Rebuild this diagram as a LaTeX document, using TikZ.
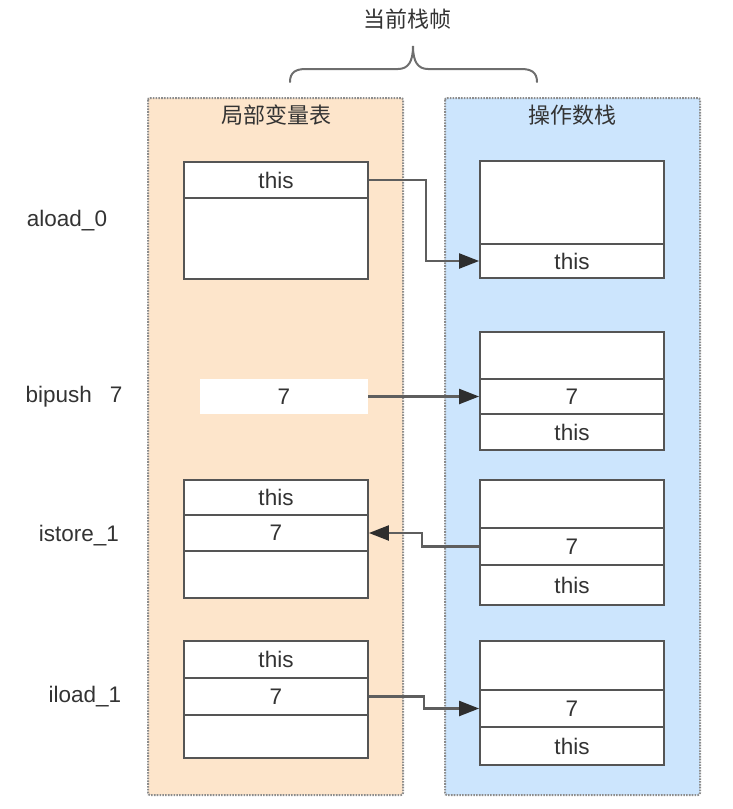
\documentclass[tikz,border=0pt]{standalone}
\usepackage{fontspec}
\setmainfont{Liberation Sans}
\newfontfamily\cjk{Noto Sans CJK SC}
\usetikzlibrary{arrows.meta}
\definecolor{peach}{HTML}{FDE5CB}
\definecolor{skyb}{HTML}{CCE5FD}
\definecolor{boxgray}{HTML}{555555}
\definecolor{txt}{HTML}{333333}
\definecolor{arrgray}{HTML}{5E5E5E}
\definecolor{headgray}{HTML}{2E2E2E}
\definecolor{dotgray}{HTML}{8C8C8C}
\tikzset{
  panel/.style={draw=dotgray, line width=2pt, dash pattern=on 1.6pt off 1.2pt, rounded corners=2pt},
  cell/.style={draw=boxgray, fill=white, line width=1.8pt, minimum width=184pt, inner sep=0pt, text=txt, font=\fontsize{22.5}{26}\selectfont},
  lab/.style={text=txt, font=\fontsize{22.5}{26}\selectfont, inner sep=0pt},
  cjklab/.style={text=txt, font=\cjk\fontsize{22}{26}\selectfont, inner sep=0pt},
  arr/.style={draw=arrgray, line width=2.2pt, -{Triangle[length=20pt,width=15pt,fill=headgray,color=headgray]}},
}
\begin{document}
\begin{tikzpicture}[x=1pt,y=-1pt]
\useasboundingbox (0,0) rectangle (733,809);
% panels
\draw[panel, fill=peach] (148,98) rectangle (403,795);
\draw[panel, fill=skyb] (445,98) rectangle (700,795);
% brace
\draw[draw=boxgray!85, line width=2pt, line cap=round]
  (290,82) .. controls (290,72) and (296,69) .. (306,69) -- (398,69)
  .. controls (408,69) and (413,62) .. (413,46)
  .. controls (413,62) and (418,69) .. (428,69) -- (521,69)
  .. controls (531,69) and (537,72) .. (537,82);
\node[cjklab] (frame) at (407,19) {当前栈帧};
\node[cjklab] (lvt) at (276,115) {局部变量表};
\node[cjklab] (ops) at (572,115) {操作数栈};
% row labels
\node[lab] (r1) at (67,221) {aload\_0};
\node[lab] (r2) at (74,397) {bipush\hspace{18pt}7};
\node[lab] (r3) at (79,536) {istore\_1};
\node[lab] (r4) at (85,697) {iload\_1};
% row 1
\node[cell, minimum height=36pt] (L1a) at (276,180) {this};
\node[cell, minimum height=81pt] (L1b) at (276,238.5) {};
\node[cell, minimum height=83pt] (R1a) at (572,202.5) {};
\node[cell, minimum height=34pt] (R1b) at (572,261) {this};
% row 2
\node[fill=white, minimum width=168pt, minimum height=35pt, inner sep=0pt, text=txt, font=\fontsize{22.5}{26}\selectfont] (L2) at (284,396.5) {7};
\node[cell, minimum height=47pt] (R2a) at (572,355.5) {};
\node[cell, minimum height=35pt] (R2b) at (572,396.5) {7};
\node[cell, minimum height=36pt] (R2c) at (572,432) {this};
% row 3
\node[cell, minimum height=35pt] (L3a) at (276,497.5) {this};
\node[cell, minimum height=36pt] (L3b) at (276,533) {7};
\node[cell, minimum height=47pt] (L3c) at (276,574.5) {};
\node[cell, minimum height=48pt] (R3a) at (572,504) {};
\node[cell, minimum height=37pt] (R3b) at (572,546.5) {7};
\node[cell, minimum height=40pt] (R3c) at (572,585) {this};
% row 4
\node[cell, minimum height=37pt] (L4a) at (276,659.5) {this};
\node[cell, minimum height=37pt] (L4b) at (276,696.5) {7};
\node[cell, minimum height=43pt] (L4c) at (276,736.5) {};
\node[cell, minimum height=49pt] (R4a) at (572,665.5) {};
\node[cell, minimum height=37pt] (R4b) at (572,708.5) {7};
\node[cell, minimum height=38pt] (R4c) at (572,746) {this};
% arrows
\draw[arr] (L1a.east) -- ++(57,0) |- (R1b.west);
\draw[arr] (L2.east) -- (R2b.west);
\draw[arr] (R3b.west) -- ++(-57,0) |- (L3b.east);
\draw[arr] (L4b.east) -- ++(55,0) |- (R4b.west);
\end{tikzpicture}
\end{document}
